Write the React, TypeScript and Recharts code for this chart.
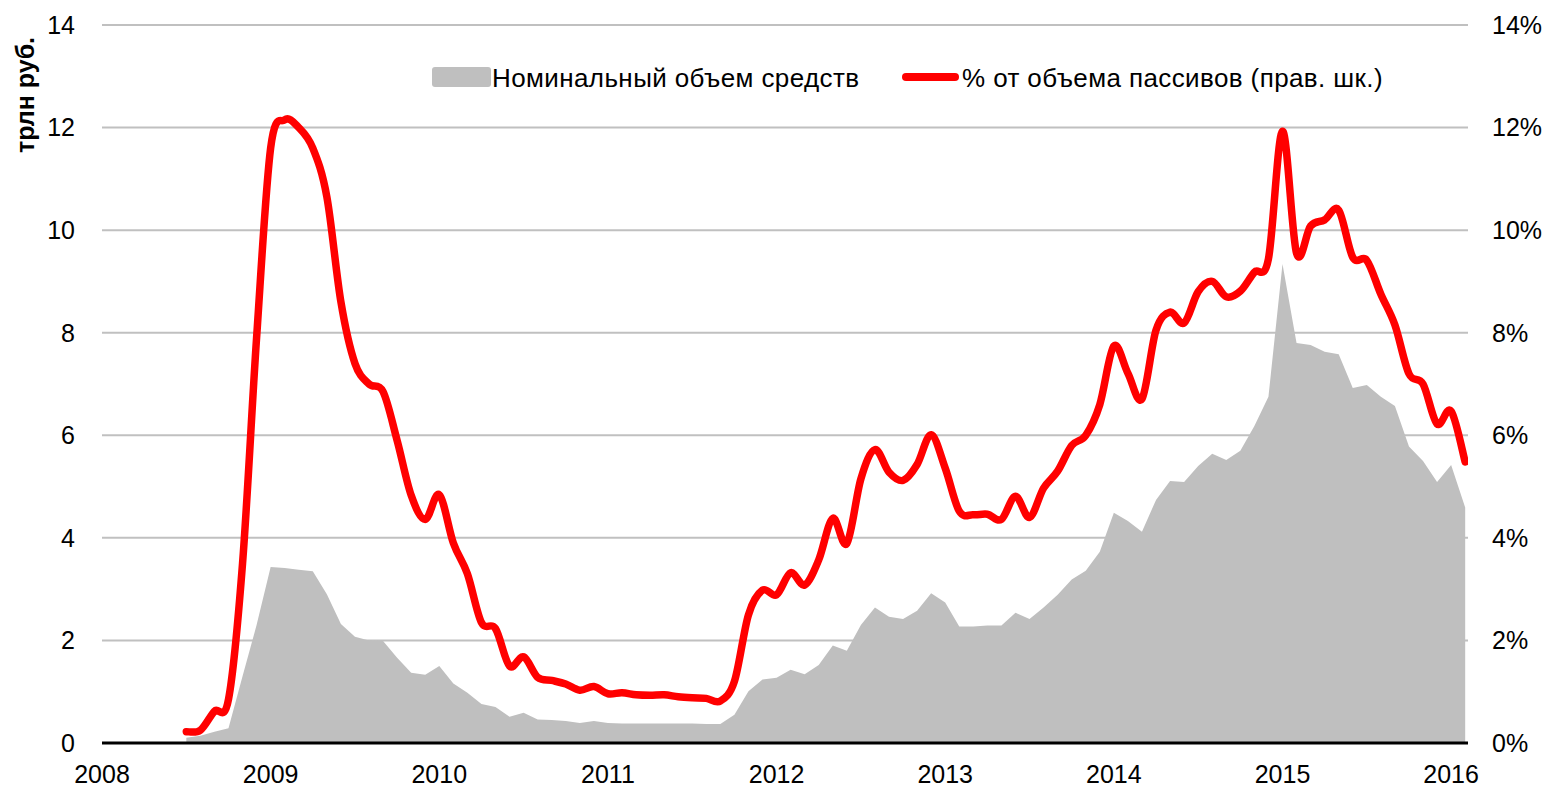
import React from 'react';
import {
  ComposedChart,
  Area,
  Line,
  XAxis,
  YAxis,
  CartesianGrid,
} from 'recharts';

// monthly observations, Jul 2008 .. Feb 2016
const FIRST_YEAR = 2008;
const FIRST_MONTH = 7;

// trillion rubles
const volume = [
  0.10, 0.14, 0.22, 0.29, 1.3, 2.3, 3.43, 3.41, 3.38, 3.35,
  2.9, 2.32, 2.07, 2.0, 1.99, 1.66, 1.37, 1.33, 1.50, 1.16,
  0.98, 0.76, 0.70, 0.51, 0.59, 0.46, 0.45, 0.43, 0.39, 0.43,
  0.39, 0.38, 0.38, 0.38, 0.38, 0.38, 0.38, 0.37, 0.37, 0.55,
  1.01, 1.24, 1.27, 1.43, 1.34, 1.52, 1.90, 1.80, 2.30, 2.64,
  2.46, 2.42, 2.58, 2.92, 2.74, 2.27, 2.27, 2.29, 2.29, 2.54,
  2.42, 2.64, 2.89, 3.19, 3.36, 3.73, 4.49, 4.33, 4.12, 4.74,
  5.11, 5.09, 5.40, 5.64, 5.52, 5.70, 6.18, 6.75, 9.34, 7.80,
  7.76, 7.63, 7.58, 6.92, 6.98, 6.75, 6.57, 5.78, 5.50, 5.09,
  5.42, 4.59,
];

// % of liabilities (right scale)
const share = [
  0.22, 0.25, 0.62, 0.85, 3.5, 7.9, 11.6, 12.15, 12.0, 11.6,
  10.65, 8.6, 7.4, 7.0, 6.85, 5.9, 4.83, 4.36, 4.84, 3.9,
  3.3, 2.35, 2.23, 1.5, 1.68, 1.28, 1.22, 1.15, 1.03, 1.1,
  0.96, 0.98, 0.94, 0.93, 0.94, 0.9, 0.88, 0.87, 0.82, 1.2,
  2.5, 2.98, 2.89, 3.32, 3.08, 3.57, 4.38, 3.89, 5.15, 5.72,
  5.28, 5.12, 5.43, 6.01, 5.36, 4.52, 4.45, 4.46, 4.36, 4.81,
  4.40, 4.97, 5.30, 5.80, 6.0, 6.6, 7.74, 7.21, 6.71, 8.05,
  8.40, 8.19, 8.8, 9.0, 8.70, 8.81, 9.18, 9.44, 11.93, 9.55,
  10.08, 10.2, 10.39, 9.47, 9.41, 8.75, 8.15, 7.2, 7.0, 6.22,
  6.47, 5.48,
];

const yearTicks = [2008, 2009, 2010, 2011, 2012, 2013, 2014, 2015, 2016];
const valueTicks = [0, 2, 4, 6, 8, 10, 12, 14];

const AREA_NAME = 'Номинальный объем средств';
const LINE_NAME = '% от объема пассивов (прав. шк.)';
const Y_TITLE = 'трлн руб.';

const data = volume.map((v, i) => ({
  t: FIRST_YEAR + (FIRST_MONTH - 1 + i) / 12,
  volume: v,
  share: share[i],
}));

const FONT = '"Liberation Sans", Arial, sans-serif';
const GREY = '#bfbfbf';
const RED = '#ff0000';

// Excel-like smoothing (uniform Catmull-Rom as cubic beziers)
const excelSmooth = (context: any) => {
  let pts: number[][] = [];
  return {
    areaStart() {},
    areaEnd() {},
    lineStart() {
      pts = [];
    },
    point(x: number, y: number) {
      pts.push([+x, +y]);
    },
    lineEnd() {
      const n = pts.length;
      if (!n) return;
      context.moveTo(pts[0][0], pts[0][1]);
      for (let i = 0; i < n - 1; i++) {
        const p0 = pts[Math.max(i - 1, 0)];
        const p1 = pts[i];
        const p2 = pts[i + 1];
        const p3 = pts[Math.min(i + 2, n - 1)];
        context.bezierCurveTo(
          p1[0] + (p2[0] - p0[0]) / 6,
          p1[1] + (p2[1] - p0[1]) / 6,
          p2[0] - (p3[0] - p1[0]) / 6,
          p2[1] - (p3[1] - p1[1]) / 6,
          p2[0],
          p2[1]
        );
      }
    },
  };
};

const tickStyle = { fontSize: 25, fill: '#000', fontFamily: FONT };

export default function App() {
  return (
    <div
      style={{
        position: 'absolute',
        left: 0,
        top: 0,
        width: 1547,
        height: 788,
        background: '#fff',
      }}
    >
      <ComposedChart
        width={1547}
        height={788}
        data={data}
        margin={{ top: 25, right: 0, left: 0, bottom: 0 }}
      >
        <CartesianGrid
          vertical={false}
          stroke="#c0c0c0"
          strokeWidth={2}
          yAxisId="left"
        />
        <XAxis
          dataKey="t"
          type="number"
          domain={[2008, 2016.1]}
          ticks={yearTicks}
          allowDataOverflow
          height={45}
          tickLine={false}
          tickSize={0}
          tickMargin={22}
          axisLine={{ stroke: '#000', strokeWidth: 3 }}
          tick={tickStyle}
          tickFormatter={(v: number) => String(Math.round(v))}
        />
        <YAxis
          yAxisId="left"
          width={102}
          domain={[0, 14]}
          ticks={valueTicks}
          axisLine={false}
          tickLine={false}
          tickSize={0}
          tickMargin={27}
          tick={tickStyle}
          label={{
            content: () => (
              <text
                x={34}
                y={95}
                transform="rotate(-90 34 95)"
                textAnchor="middle"
                fontFamily={FONT}
                fontSize={25}
                fontWeight="bold"
                fill="#000"
              >
                {Y_TITLE}
              </text>
            ),
          }}
        />
        <YAxis
          yAxisId="right"
          orientation="right"
          width={79}
          domain={[0, 14]}
          ticks={valueTicks}
          axisLine={false}
          tickLine={false}
          tickSize={0}
          tickMargin={24}
          tick={{ ...tickStyle, textAnchor: 'start' }}
          tickFormatter={(v: number) => `${v}%`}
        />
        <Area
          yAxisId="left"
          dataKey="volume"
          type="linear"
          fill={GREY}
          fillOpacity={1}
          stroke="none"
          isAnimationActive={false}
        />
        <Line
          yAxisId="right"
          dataKey="share"
          type={excelSmooth as any}
          stroke={RED}
          strokeWidth={7.5}
          strokeLinecap="round"
          strokeLinejoin="round"
          dot={false}
          activeDot={false}
          isAnimationActive={false}
        />
      </ComposedChart>

      {/* legend */}
      <svg
        width={1547}
        height={120}
        style={{ position: 'absolute', left: 0, top: 0, pointerEvents: 'none' }}
      >
        <rect x={432} y={67} width={59} height={20} rx={3} fill={GREY} />
        <text
          x={492}
          y={78}
          dominantBaseline="central"
          fontFamily={FONT}
          fontSize={26}
          letterSpacing={0.4}
          fill="#000"
        >
          {AREA_NAME}
        </text>
        <line
          x1={906}
          y1={77}
          x2={955}
          y2={77}
          stroke={RED}
          strokeWidth={8}
          strokeLinecap="round"
        />
        <text
          x={962}
          y={78}
          dominantBaseline="central"
          fontFamily={FONT}
          fontSize={26}
          letterSpacing={0.4}
          fill="#000"
        >
          {LINE_NAME}
        </text>
      </svg>
    </div>
  );
}
